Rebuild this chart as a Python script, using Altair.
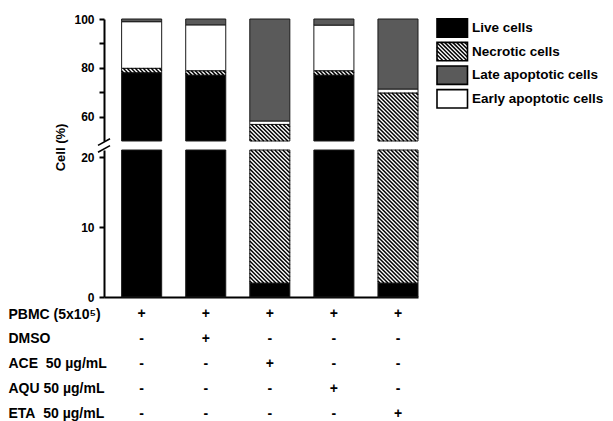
import altair as alt
import pandas as pd
import numpy as np

# ---------------- data ----------------
conditions = ["Control", "DMSO", "ACE", "AQU", "ETA"]
live = [78.0, 77.0, 2.0, 77.0, 2.0]
necrotic = [1.8, 1.8, 54.8, 1.8, 67.7]
early = [19.1, 18.8, 1.4, 18.7, 1.6]
late = [1.1, 2.4, 41.8, 2.5, 28.7]

legend_order = ["Live cells", "Necrotic cells", "Late apoptotic cells", "Early apoptotic cells"]
stack_order = ["Live cells", "Necrotic cells", "Early apoptotic cells", "Late apoptotic cells"]

row_labels = ["PBMC (5x10\u2075)", "\u00a0DMSO", "ACE\u00a0 50 \u00b5g/mL", "AQU 50 \u00b5g/mL", "ETA\u00a0 50 \u00b5g/mL"]
signs = [
    ["+", "+", "+", "+", "+"],
    ["-", "+", "-", "-", "-"],
    ["-", "-", "+", "-", "-"],
    ["-", "-", "-", "+", "-"],
    ["-", "-", "-", "-", "+"],
]
upper_ticks = [60, 70, 80, 90, 100]
lower_ticks = [0, 10, 20]

# ---------------- layout / style ----------------
FONT = "Liberation Sans"
W, H = 314, 278
XMIN, XMAX = -0.5875, 4.3125
KX = W / (XMAX - XMIN)
HALF = 0.3125
UP_DOM, UP_RNG = [50, 100], [122, 0]
LO_DOM, LO_RNG = [0, 21], [278, 131]
KU = (UP_RNG[0] - UP_RNG[1]) / (UP_DOM[1] - UP_DOM[0])
KL = (LO_RNG[0] - LO_RNG[1]) / (LO_DOM[1] - LO_DOM[0])
TAB_RNG = [295, 394.6]
LEG_XDOM, LEG_XRNG = [0, 170], [333, 503]
LEG_YDOM, LEG_YRNG = [0, 3], [9, 79.8]
KLY = (LEG_YRNG[1] - LEG_YRNG[0]) / (LEG_YDOM[1] - LEG_YDOM[0])
PERIOD = 4.0
colors = {"Live cells": "#000000", "Necrotic cells": "#ffffff",
          "Late apoptotic cells": "#5a5a5a", "Early apoptotic cells": "#ffffff"}

vals = {"Live cells": live, "Necrotic cells": necrotic,
        "Early apoptotic cells": early, "Late apoptotic cells": late}
recs = []
for i in range(len(conditions)):
    base = 0.0
    for s in stack_order:
        v = vals[s][i]
        recs.append(dict(idx=i, series=s, start=base, end=base + v))
        base += v
seg = pd.DataFrame(recs)


def panel(lo, hi):
    d = seg.copy()
    d["y0"] = d["start"].clip(lower=lo)
    d["y1"] = d["end"].clip(upper=hi)
    d = d[d["y1"] > d["y0"]].copy()
    d["x0"] = d["idx"] - HALF
    d["x1"] = d["idx"] + HALF
    return d


def hatch(x0, x1, y0, y1, kx, ky):
    w = (x1 - x0) * kx
    h = (y1 - y0) * ky
    out = []
    c = -h + PERIOD / 2
    while c < w:
        vs = max(0.0, -c)
        ve = min(h, w - c)
        if ve - vs > 0.3:
            out.append(dict(xa=x0 + (vs + c) / kx, ya=y1 - vs / ky,
                            xb=x0 + (ve + c) / kx, yb=y1 - ve / ky))
        c += PERIOD
    return out


def hatch_df(d, ky):
    out = []
    for _, r in d[d["series"] == "Necrotic cells"].iterrows():
        out += hatch(r["x0"], r["x1"], r["y0"], r["y1"], KX, ky)
    return pd.DataFrame(out)


fill_scale = alt.Scale(domain=legend_order, range=[colors[s] for s in legend_order])
xs = alt.Scale(domain=[XMIN, XMAX], nice=False, zero=False)
ax_common = dict(domainColor="black", domainWidth=2, tickColor="black", tickWidth=2,
                 tickSize=5, labelFont=FONT, labelFontSize=12, labelFontWeight="bold",
                 labelColor="black", labelPadding=5, grid=False, orient="left")


def bar_panel(lo, hi, yscale, yaxis, ky, xaxis=None):
    d = panel(lo, hi)
    bars = alt.Chart(d).mark_bar(stroke="#1a1a1a", strokeWidth=1).encode(
        x=alt.X("x0:Q", scale=xs, axis=xaxis), x2="x1:Q",
        y=alt.Y("y0:Q", scale=yscale, axis=yaxis), y2="y1:Q",
        fill=alt.Fill("series:N", scale=fill_scale, legend=None),
    )
    hd = hatch_df(d, ky)
    hat = alt.Chart(hd).mark_rule(color="black", strokeWidth=1.5, strokeCap="butt").encode(
        x=alt.X("xa:Q", scale=xs, axis=xaxis), x2="xb:Q",
        y=alt.Y("ya:Q", scale=yscale, axis=yaxis), y2="yb:Q",
    )
    return bars, hat


up_scale = alt.Scale(domain=UP_DOM, range=UP_RNG, nice=False, zero=False)
up_axis = alt.Axis(values=upper_ticks, labelExpr="datum.value % 20 === 0 ? datum.label : ''",
                   title="Cell (%)", titleFont=FONT, titleFontSize=13, titleFontWeight="bold",
                   titleColor="black", titleX=-37, titleY=128, **ax_common)
ub, uh = bar_panel(UP_DOM[0], UP_DOM[1], up_scale, up_axis, KU)

# axis-break slashes (pixel offsets from the plot origin, converted through the upper scale)
gap_mid = (UP_RNG[0] + LO_RNG[1]) / 2
brk = []
for k, dy in enumerate([-3.4, 3.4]):
    cy = gap_mid + dy
    brk.append(dict(xa=XMIN - 6 / KX, ya=UP_DOM[1] - (cy + 3.3) / KU,
                    xb=XMIN + 6 / KX, yb=UP_DOM[1] - (cy - 3.3) / KU))
breaks = alt.Chart(pd.DataFrame(brk)).mark_rule(color="black", strokeWidth=1.6).encode(
    x=alt.X("xa:Q", scale=xs, axis=None), x2="xb:Q",
    y=alt.Y("ya:Q", scale=up_scale, axis=up_axis), y2="yb:Q",
)
upper = alt.layer(ub, uh, breaks)

lo_scale = alt.Scale(domain=LO_DOM, range=LO_RNG, nice=False, zero=False)
lo_axis = alt.Axis(values=lower_ticks, title=None, **ax_common)
x_axis = alt.Axis(labels=False, ticks=False, domain=True, domainWidth=2, domainColor="black",
                  title=None, grid=False)
lb, lh = bar_panel(LO_DOM[0], LO_DOM[1], lo_scale, lo_axis, KL, xaxis=x_axis)
lower = alt.layer(lb, lh)

# condition table
trecs = []
for r, lab in enumerate(row_labels):
    for c in range(len(conditions)):
        trecs.append(dict(row=lab, col=c, sign=signs[r][c]))
tab = pd.DataFrame(trecs)
table = alt.Chart(tab).mark_text(font=FONT, fontSize=14, fontWeight="bold", color="black").encode(
    x=alt.X("col:Q", scale=xs, axis=None),
    y=alt.Y("row:N", sort=row_labels,
            scale=alt.Scale(type="point", range=TAB_RNG, padding=0),
            axis=alt.Axis(orient="left", domain=False, ticks=False, tickSize=0,
                          labelAlign="left", labelPadding=96, labelFont=FONT,
                          labelFontSize=14, labelFontWeight="bold", labelColor="black",
                          labelLimit=0, title=None, grid=False)),
    text="sign:N",
)

# legend drawn as marks
leg = pd.DataFrame(dict(series=legend_order, row=list(range(len(legend_order)))))
leg["lx0"] = 0.0
leg["lx1"] = 30.5
leg["ly0"] = leg["row"] - 0.39
leg["ly1"] = leg["row"] + 0.39
leg["tx"] = 35.0
lxs = alt.Scale(domain=LEG_XDOM, range=LEG_XRNG, nice=False, zero=False)
lys = alt.Scale(domain=LEG_YDOM, range=LEG_YRNG, nice=False, zero=False)
leg_box = alt.Chart(leg).mark_rect(stroke="black", strokeWidth=1.6).encode(
    x=alt.X("lx0:Q", scale=lxs, axis=None), x2="lx1:Q",
    y=alt.Y("ly0:Q", scale=lys, axis=None), y2="ly1:Q",
    fill=alt.Fill("series:N", scale=fill_scale, legend=None),
)
nr = leg[leg["series"] == "Necrotic cells"].iloc[0]
lh_df = pd.DataFrame(hatch(nr["lx0"], nr["lx1"], -nr["ly1"], -nr["ly0"], 1.0, KLY))
lh_df["ya"] = -lh_df["ya"]
lh_df["yb"] = -lh_df["yb"]
leg_hatch = alt.Chart(lh_df).mark_rule(color="black", strokeWidth=1.5, strokeCap="butt").encode(
    x=alt.X("xa:Q", scale=lxs, axis=None), x2="xb:Q",
    y=alt.Y("ya:Q", scale=lys, axis=None), y2="yb:Q",
)
leg_text = alt.Chart(leg).mark_text(align="left", baseline="middle", font=FONT, fontSize=13.5,
                                    fontWeight="bold", color="black").encode(
    x=alt.X("tx:Q", scale=lxs, axis=None),
    y=alt.Y("row:Q", scale=lys, axis=None),
    text="series:N",
)
legend = alt.layer(leg_box, leg_hatch, leg_text)

chart = alt.layer(upper, lower, table, legend).resolve_scale(
    x="independent", y="independent"
).properties(
    width=W, height=H, padding={"left": 0, "top": 5, "right": 0, "bottom": 0},
    background="white",
).configure_view(stroke=None)

chart.save("out.html", embed_options={"renderer": "svg", "actions": False})
